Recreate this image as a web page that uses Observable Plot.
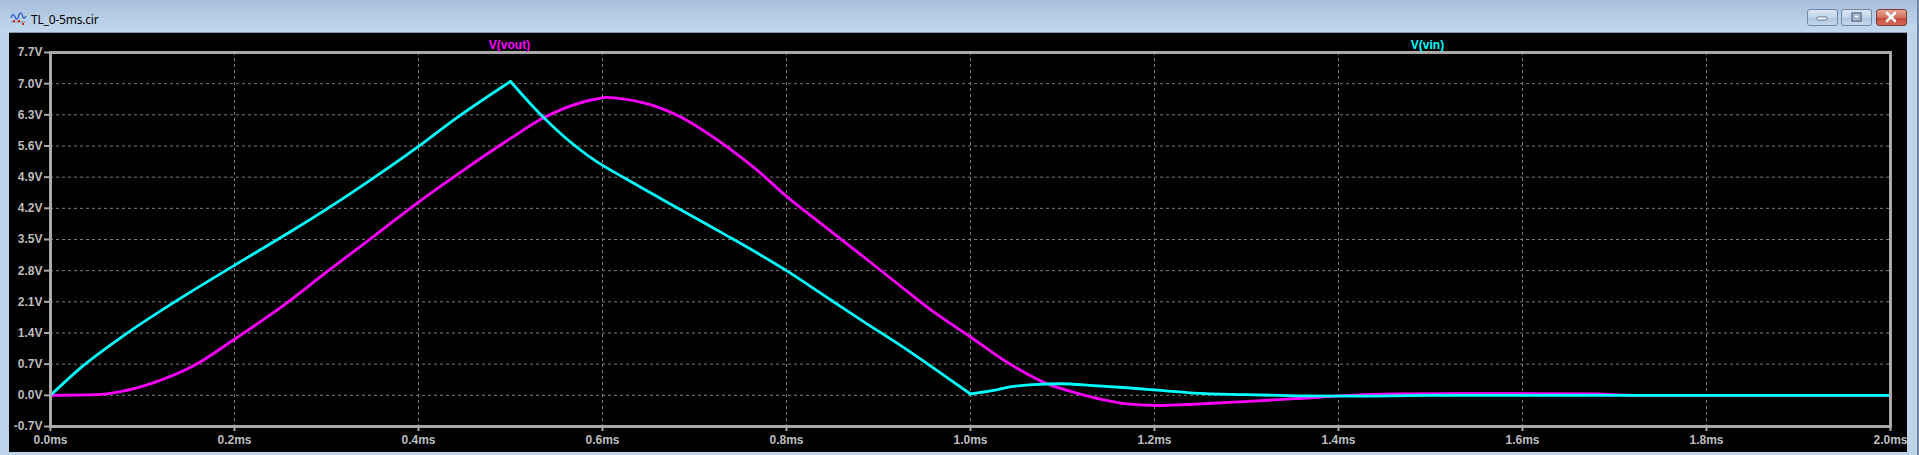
<!DOCTYPE html>
<html>
<head>
<meta charset="utf-8">
<script src="https://cdn.jsdelivr.net/npm/d3@7"></script>
<script src="https://cdn.jsdelivr.net/npm/@observablehq/plot@0.6"></script>
<style>
  html, body { margin: 0; padding: 0; }
  body { width: 1919px; height: 455px; overflow: hidden; position: relative;
         background: #bed3ea; font-family: "Liberation Sans", Arial, sans-serif; }
  #titlebar { position: absolute; left: 0; top: 0; width: 1919px; height: 32px;
              background: linear-gradient(#a6bedb, #bcd2ea 70%, #c2d7ee); }
  #title { position: absolute; left: 31px; top: 11px; font: 12px "Noto Sans", "Liberation Sans", sans-serif;
           color: #000; letter-spacing: -0.2px; }
  #icon { position: absolute; left: 10px; top: 11px; }
  .btn { position: absolute; top: 9px; height: 17px; width: 31px; border-radius: 3px; box-sizing: border-box;
         border: 1px solid #6f87a5; background: linear-gradient(#dbe6f3, #c1d3e8 50%, #aec4de 51%, #c4d7ec); }
  #bmin { left: 1807px; } #bres { left: 1841px; }
  #bclose { left: 1876px; border-color: #7c3b36; background: linear-gradient(#e8a493, #d2705d 50%, #c4483a 51%, #d46a58); }
  #chart { position: absolute; left: 9px; top: 32px; width: 1898px; height: 419px; background: #000;
           border-top: 1px solid #8595aa; box-sizing: content-box; }
  #edge { position: absolute; left: 1917px; top: 0; width: 2px; height: 455px; background: #6f87a5; }
</style>
</head>
<body>
<div id="titlebar">
  <svg id="icon" width="17" height="15" viewBox="0 0 17 15">
    <path d="M1 7 Q3 1 5 6 Q7 11 9 4 Q11 -1 13 6 Q14 9 16 5" fill="none" stroke="#2a5bc8" stroke-width="1.3"/>
    <line x1="1" y1="11" x2="16" y2="11" stroke="#888" stroke-width="1"/>
    <rect x="3" y="9" width="2" height="2" fill="#d02020"/>
    <rect x="8" y="9" width="2" height="2" fill="#d02020"/>
    <rect x="12" y="12" width="2" height="2" fill="#d02020"/>
  </svg>
  <div id="title">TL_0-5ms.cir</div>
  <div class="btn" id="bmin"><svg width="29" height="15"><rect x="9" y="7" width="10" height="3" rx="1" fill="#fff" stroke="#4a5e78" stroke-width="0.8"/></svg></div>
  <div class="btn" id="bres"><svg width="29" height="15"><rect x="10" y="3" width="9" height="8" fill="none" stroke="#4a5e78" stroke-width="1.2"/><rect x="12" y="5" width="5" height="3" fill="#fff" stroke="#4a5e78" stroke-width="0.6"/></svg></div>
  <div class="btn" id="bclose"><svg width="29" height="15"><path d="M10 3 L18 11 M18 3 L10 11" stroke="#fff" stroke-width="2.6" stroke-linecap="round"/></svg></div>
</div>
<div id="chart"></div>
<div id="edge"></div>
<script>
// ---- data (time in ms, voltage in V) ----
const tVin  = [0, 0.034, 0.078, 0.139, 0.2, 0.266, 0.328, 0.4, 0.44, 0.5, 0.534, 0.555, 0.592, 0.624, 0.664, 0.729, 0.8, 0.849, 0.885, 0.921, 0.958, 0.987, 1.0, 1.025, 1.043, 1.068, 1.098, 1.134, 1.17, 1.207, 1.243, 1.298, 1.353, 1.425, 1.476, 1.55, 2.0];
const vVin  = [0, 0.64, 1.32, 2.15, 2.92, 3.74, 4.56, 5.59, 6.21, 7.05, 6.28, 5.87, 5.27, 4.88, 4.41, 3.66, 2.80, 2.13, 1.64, 1.16, 0.64, 0.22, 0.03, 0.11, 0.19, 0.24, 0.26, 0.22, 0.17, 0.11, 0.05, 0.015, -0.01, -0.02, -0.005, 0, 0];
const tVout = [0, 0.049, 0.08, 0.11, 0.157, 0.2, 0.248, 0.302, 0.357, 0.4, 0.44, 0.5, 0.534, 0.559, 0.592, 0.605, 0.617, 0.65, 0.686, 0.711, 0.737, 0.769, 0.8, 0.838, 0.867, 0.885, 0.921, 0.958, 1.0, 1.04, 1.087, 1.109, 1.134, 1.17, 1.207, 1.243, 1.298, 1.353, 1.407, 1.462, 1.55, 1.68, 1.72, 2.0];
const vVout = [0, 0.015, 0.10, 0.27, 0.68, 1.26, 1.94, 2.80, 3.66, 4.34, 4.93, 5.77, 6.21, 6.45, 6.65, 6.69, 6.67, 6.54, 6.24, 5.93, 5.56, 5.04, 4.47, 3.85, 3.38, 3.09, 2.50, 1.90, 1.31, 0.74, 0.23, 0.09, -0.05, -0.19, -0.228, -0.2, -0.14, -0.076, -0.008, 0.03, 0.04, 0.03, 0, 0];
// V(vin) has sharp corners at these sample times
const vinCorners = [0.5, 1.0];

const seriesNames  = ["V(vout)", "V(vin)"];
const seriesColors = ["#ff00ff", "#00ffff"];

const xTicks = [0, 0.2, 0.4, 0.6, 0.8, 1.0, 1.2, 1.4, 1.6, 1.8, 2.0];
const xTickLabels = ["0.0ms", "0.2ms", "0.4ms", "0.6ms", "0.8ms", "1.0ms", "1.2ms", "1.4ms", "1.6ms", "1.8ms", "2.0ms"];
const yTicks = [-0.7, 0.0, 0.7, 1.4, 2.1, 2.8, 3.5, 4.2, 4.9, 5.6, 6.3, 7.0, 7.7];
const yTickLabels = ["-0.7V", "0.0V", "0.7V", "1.4V", "2.1V", "2.8V", "3.5V", "4.2V", "4.9V", "5.6V", "6.3V", "7.0V", "7.7V"];

// split V(vin) into smooth pieces that meet at the corners
const vin = [];
let seg = 0;
tVin.forEach((t, i) => {
  vin.push({t, v: vVin[i], seg});
  if (vinCorners.includes(t)) { seg++; vin.push({t, v: vVin[i], seg}); }
});
const vout = tVout.map((t, i) => ({t, v: vVout[i]}));

const gridGray = "#7a7a7a";
const axisGray = "#a9a9a9";

const chart = Plot.plot({
  width: 1898,
  height: 419,
  marginLeft: 41,
  marginRight: 17,
  marginTop: 19,
  marginBottom: 26,
  style: {background: "#000", color: "#bcbcbc", fontFamily: "'Liberation Sans', Arial, sans-serif",
          fontSize: "12px", fontWeight: "bold", overflow: "visible"},
  x: {domain: [0, 2.0]},
  y: {domain: [-0.7, 7.7]},
  marks: [
    Plot.gridX(xTicks.slice(1, -1), {stroke: gridGray, strokeOpacity: 1, strokeDasharray: "3,3", strokeWidth: 1}),
    Plot.gridY(yTicks.slice(1, -1), {stroke: gridGray, strokeOpacity: 1, strokeDasharray: "3,3", strokeWidth: 1}),
    Plot.line(vout, {x: "t", y: "v", stroke: seriesColors[0], strokeWidth: 2.8, curve: "monotone-x"}),
    Plot.line(vin,  {x: "t", y: "v", z: "seg", stroke: seriesColors[1], strokeWidth: 2.8, curve: "monotone-x"}),
    Plot.frame({stroke: axisGray, strokeWidth: 3}),
    Plot.axisY(yTicks, {tickSize: 6, tickPadding: 2, stroke: axisGray, strokeWidth: 2, fill: "#bcbcbc",
                        tickFormat: (d, i) => yTickLabels[i], label: null}),
    Plot.axisX(xTicks, {tickSize: 5, tickPadding: 4, stroke: axisGray, strokeWidth: 2, fill: "#bcbcbc",
                        tickFormat: (d, i) => xTickLabels[i], label: null}),
    Plot.text([seriesNames[0]], {frameAnchor: "top-left", dx: 459, dy: -12, textAnchor: "middle",
                                 fill: seriesColors[0], fontWeight: "bold", fontSize: 12}),
    Plot.text([seriesNames[1]], {frameAnchor: "top-left", dx: 1377, dy: -12, textAnchor: "middle",
                                 fill: seriesColors[1], fontWeight: "bold", fontSize: 12})
  ]
});
document.getElementById("chart").appendChild(chart);
</script>
</body>
</html>
